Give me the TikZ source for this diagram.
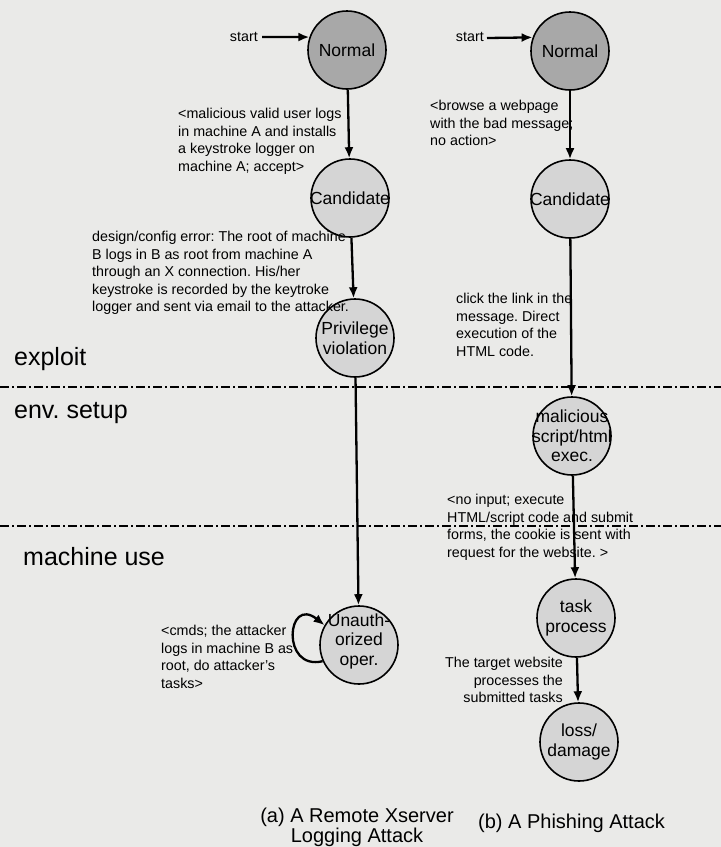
\documentclass[tikz,border=0pt]{standalone}
\usepackage{fontspec}
\setmainfont{Liberation Sans}
\usetikzlibrary{arrows.meta}
\definecolor{paper}{RGB}{234,234,232}
\definecolor{darkst}{RGB}{168,168,168}
\definecolor{lightst}{RGB}{213,213,213}
\frenchspacing
\begin{document}
\begin{tikzpicture}[x=1pt,y=-1pt,
  state/.style={circle,draw=black,line width=1.6pt,fill=lightst,minimum size=78pt,inner sep=0pt},
  startstate/.style={state,fill=darkst},
  sttext/.style={font=\fontsize{17.5}{19.5}\selectfont,align=center},
  lbl/.style={font=\fontsize{14.3}{17.5}\selectfont,align=left,inner sep=0pt,anchor=north west},
  region/.style={font=\fontsize{25}{30}\selectfont,inner sep=0pt,anchor=base west},
  captext/.style={font=\fontsize{20}{20}\selectfont,inner sep=0pt,align=center},
  arr/.style={line width=2.3pt,-{Latex[length=11pt,width=9pt]}},
  sepline/.style={line width=1.6pt,dash pattern=on 9pt off 3pt on 2pt off 3pt}]

\path[fill=paper,use as bounding box] (0,0) rectangle (721,847);

% separators
\coordinate (sepAl) at (0,387);
\coordinate (sepAr) at (721,387);
\coordinate (sepBl) at (0,526);
\coordinate (sepBr) at (721,526);
\draw[sepline] (sepAl) -- (sepAr);
\draw[sepline] (sepBl) -- (sepBr);

% region labels
\node[region] (rexp) at (14,365) {exploit};
\node[region] (renv) at (14,418) {env. setup};
\node[region] (ruse) at (23,565) {machine use};

% left column states
\node[startstate,label={[sttext]center:Normal}] (nL) at (347,50) {};
\node[state,label={[sttext]center:Candidate}] (cL) at (350,198) {};
\node[state,label={[sttext]center:{Privilege\\violation}}] (pL) at (355,338) {};
\node[state,label={[sttext,yshift=4pt]center:{Unauth-\\orized\\oper.}}] (uL) at (359,645) {};

% right column states
\node[startstate,label={[sttext]center:Normal}] (nR) at (570,51) {};
\node[state,label={[sttext]center:Candidate}] (cR) at (570,199) {};
\node[state,label={[sttext]center:{malicious\\script/html\\exec.}}] (mR) at (572,436) {};
\node[state,label={[sttext]center:{task\\process}}] (tR) at (576,618) {};
\node[state,label={[sttext]center:{loss/\\damage}}] (lR) at (579,742) {};

% start arrows
\node[font=\fontsize{14.3}{17}\selectfont,inner sep=0pt,anchor=base east] (stL) at (258,41) {start};
\node[font=\fontsize{14.3}{17}\selectfont,inner sep=0pt,anchor=base east] (stR) at (484,41) {start};
\coordinate (sL) at (262,37);
\coordinate (sR) at (487,38);
\draw[arr] (sL) -- (nL.161);
\draw[arr] (sR) -- (nR.160);

% left transitions
\draw[arr] (nL) -- (cL);
\draw[arr] (cL) -- (pL);
\draw[arr] (pL) -- (uL);
\draw[arr] (uL.204) .. controls +(-42,10) and +(-38,-30) .. (uL.150);

% right transitions
\draw[arr] (nR) -- (cR);
\draw[arr] (cR) -- (mR);
\draw[arr] (mR) -- (tR);
\draw[arr] (tR) -- (lR);

% transition labels
\node[lbl] (l1) at (178,108) {<malicious valid user logs\\in machine A and installs\\a keystroke logger on\\machine A; accept>};
\node[lbl] (l2) at (92,231) {design/config error: The root of machine\\B logs in B as root from machine A\\through an X connection. His/her\\keystroke is recorded by the keytroke\\logger and sent via email to the attacker.};
\node[lbl] (l3) at (161,625) {<cmds; the attacker\\logs in machine B as\\root, do attacker's\\tasks>};
\node[lbl] (r1) at (430,100) {<browse a webpage\\with the bad message;\\no action>};
\node[lbl] (r2) at (456,293) {click the link in the\\message. Direct\\execution of the\\HTML code.};
\node[lbl] (r3) at (447,494) {<no input; execute\\HTML/script code and submit\\forms, the cookie is sent with\\request for the website. >};
\node[lbl,align=right,anchor=north east] (r4) at (563,657) {The target website\\processes the\\submitted tasks};

% captions
\node[captext,anchor=north] (capa) at (357,808) {(a) A Remote Xserver\\Logging Attack};
\node[captext,anchor=base west] (capb) at (478,828) {(b) A Phishing Attack};
\end{tikzpicture}
\end{document}
